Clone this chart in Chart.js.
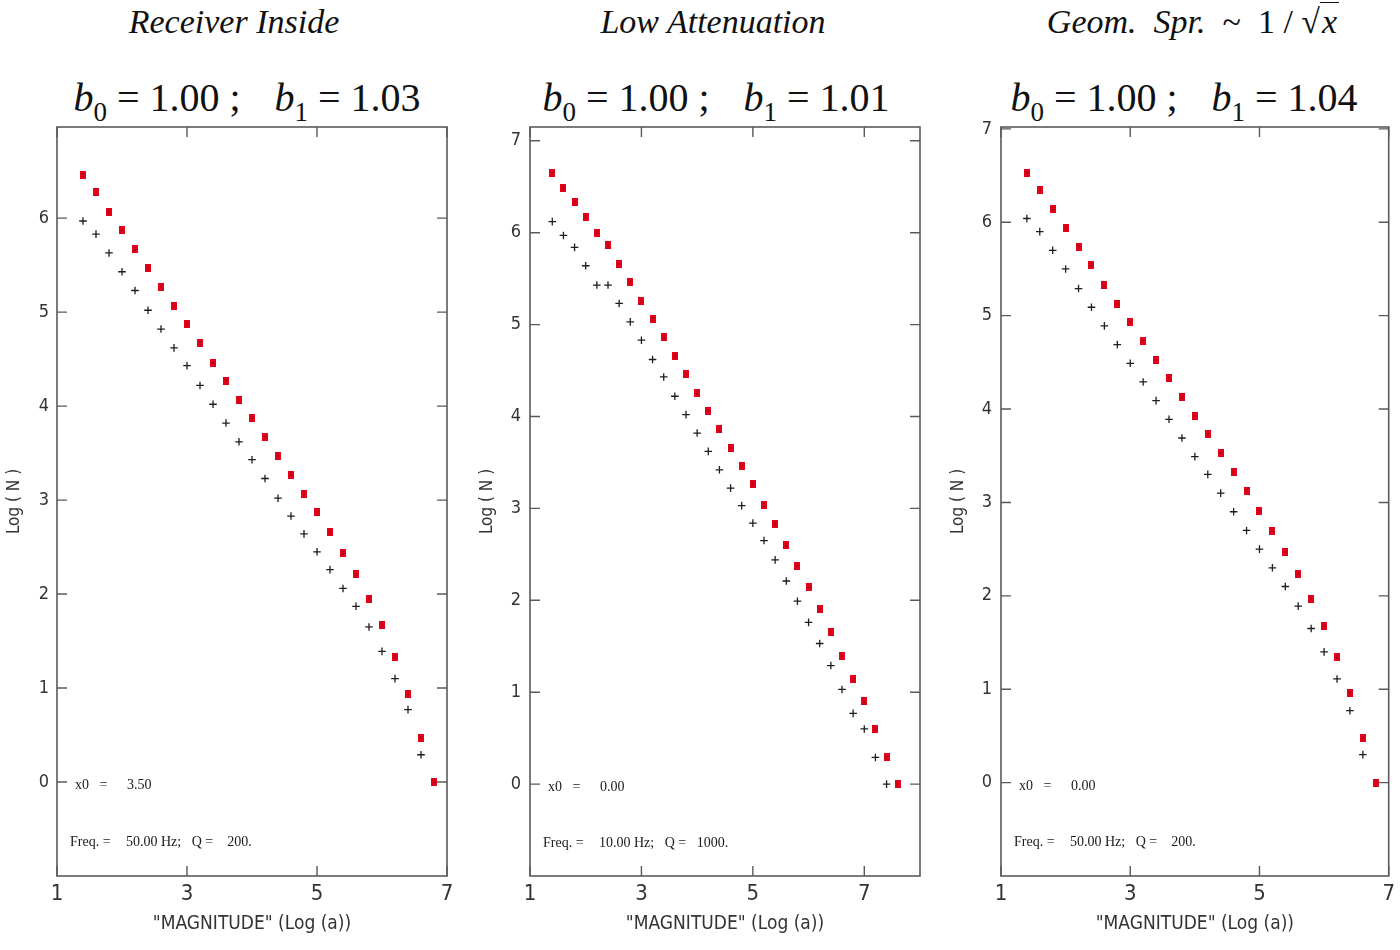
<!DOCTYPE html>
<html>
<head>
<meta charset="utf-8">
<script src="https://cdn.jsdelivr.net/npm/chart.js@4.4.1/dist/chart.umd.min.js"></script>
<style>
  body { margin:0; background:#fff; width:1400px; height:950px; overflow:hidden; position:relative; font-family:'Liberation Serif','DejaVu Serif',serif; color:#111; }
  canvas { position:absolute; top:0; }
  .t { position:absolute; width:500px; text-align:center; font-style:italic; font-size:34px; line-height:36px; white-space:nowrap; }
  .b { position:absolute; width:500px; text-align:center; font-size:40px; line-height:44px; white-space:nowrap; }
  .b i { font-style:italic; }
  .s { font-size:27px; position:relative; top:10px; font-style:normal; }
  .gap { display:inline-block; width:34px; }
  .rad { border-top:1.6px solid #111; font-style:italic; padding:0 2px; }
</style>
</head>
<body>
<div class="t" style="left:-16px;top:4px;">Receiver Inside</div>
<div class="t" style="left:463px;top:4px;">Low Attenuation</div>
<div class="t" style="left:943px;top:4px;"><i>Geom.&nbsp; Spr.</i>&nbsp; <span style="font-style:normal">~ &nbsp;1 / √</span><span class="rad">x</span></div>

<div class="b" style="left:-3px;top:76px;"><i>b</i><span class="s">0</span> = 1.00 ;<span class="gap"></span><i>b</i><span class="s">1</span> = 1.03</div>
<div class="b" style="left:466px;top:76px;"><i>b</i><span class="s">0</span> = 1.00 ;<span class="gap"></span><i>b</i><span class="s">1</span> = 1.01</div>
<div class="b" style="left:934px;top:76px;"><i>b</i><span class="s">0</span> = 1.00 ;<span class="gap"></span><i>b</i><span class="s">1</span> = 1.04</div>

<canvas id="c1" width="460" height="950" style="left:0px;"></canvas>
<canvas id="c2" width="465" height="950" style="left:470px;"></canvas>
<canvas id="c3" width="460" height="950" style="left:940px;"></canvas>

<script>
// ---------- Data ----------
const xTicks = [1, 3, 5, 7];
const yTicks1 = [0, 1, 2, 3, 4, 5, 6];
const yTicks2 = [0, 1, 2, 3, 4, 5, 6, 7];
const yTicks3 = [0, 1, 2, 3, 4, 5, 6, 7];

// Panel 1: Receiver Inside
const red1X = [1.4,1.6,1.8,2.0,2.2,2.4,2.6,2.8,3.0,3.2,3.4,3.6,3.8,4.0,4.2,4.4,4.6,4.8,5.0,5.2,5.4,5.6,5.8,6.0,6.2,6.4,6.6,6.8];
const red1Y = [6.46,6.28,6.07,5.87,5.67,5.47,5.27,5.07,4.87,4.67,4.46,4.27,4.06,3.87,3.67,3.47,3.27,3.06,2.87,2.66,2.44,2.21,1.95,1.67,1.33,0.94,0.47,0.00];
const blk1X = [1.4,1.6,1.8,2.0,2.2,2.4,2.6,2.8,3.0,3.2,3.4,3.6,3.8,4.0,4.2,4.4,4.6,4.8,5.0,5.2,5.4,5.6,5.8,6.0,6.2,6.4,6.6];
const blk1Y = [5.97,5.83,5.63,5.43,5.23,5.02,4.82,4.62,4.43,4.22,4.02,3.82,3.62,3.43,3.23,3.02,2.83,2.64,2.45,2.26,2.06,1.87,1.65,1.39,1.10,0.77,0.29];

// Panel 2: Low Attenuation
const red2X = [1.4,1.6,1.8,2.0,2.2,2.4,2.6,2.8,3.0,3.2,3.4,3.6,3.8,4.0,4.2,4.4,4.6,4.8,5.0,5.2,5.4,5.6,5.8,6.0,6.2,6.4,6.6,6.8,7.0,7.2,7.4,7.6];
const red2Y = [6.65,6.49,6.33,6.17,6.00,5.87,5.66,5.46,5.26,5.06,4.86,4.66,4.46,4.26,4.06,3.86,3.66,3.46,3.26,3.04,2.83,2.60,2.37,2.14,1.90,1.65,1.39,1.14,0.90,0.60,0.29,0.00];
const blk2X = [1.4,1.6,1.8,2.0,2.2,2.4,2.6,2.8,3.0,3.2,3.4,3.6,3.8,4.0,4.2,4.4,4.6,4.8,5.0,5.2,5.4,5.6,5.8,6.0,6.2,6.4,6.6,6.8,7.0,7.2,7.4];
const blk2Y = [6.12,5.97,5.84,5.64,5.43,5.43,5.23,5.03,4.83,4.62,4.43,4.22,4.02,3.82,3.62,3.42,3.22,3.03,2.84,2.65,2.44,2.21,1.99,1.76,1.53,1.29,1.03,0.77,0.60,0.29,0.00];

// Panel 3: Geom. Spr. ~ 1/sqrt(x)
const red3X = [1.4,1.6,1.8,2.0,2.2,2.4,2.6,2.8,3.0,3.2,3.4,3.6,3.8,4.0,4.2,4.4,4.6,4.8,5.0,5.2,5.4,5.6,5.8,6.0,6.2,6.4,6.6,6.8];
const red3Y = [6.53,6.35,6.14,5.94,5.74,5.54,5.33,5.13,4.93,4.73,4.53,4.33,4.13,3.93,3.73,3.53,3.33,3.12,2.91,2.69,2.47,2.23,1.97,1.68,1.35,0.96,0.48,0.00];
const blk3X = [1.4,1.6,1.8,2.0,2.2,2.4,2.6,2.8,3.0,3.2,3.4,3.6,3.8,4.0,4.2,4.4,4.6,4.8,5.0,5.2,5.4,5.6,5.8,6.0,6.2,6.4,6.6];
const blk3Y = [6.04,5.90,5.70,5.50,5.29,5.09,4.89,4.69,4.49,4.29,4.09,3.89,3.69,3.49,3.30,3.10,2.90,2.70,2.50,2.30,2.10,1.89,1.65,1.40,1.11,0.77,0.30];

const notes1 = { x0: '3.50', freq: '50.00 Hz;   Q =    200.' };
const notes2 = { x0: '0.00', freq: '10.00 Hz;   Q =   1000.' };
const notes3 = { x0: '0.00', freq: '50.00 Hz;   Q =    200.' };

// ---------- Drawing ----------
const redMark = document.createElement('canvas');
redMark.width = 6; redMark.height = 8;
(function(){ const c = redMark.getContext('2d'); c.fillStyle = '#e2001a'; c.fillRect(0,0,6,8); c.fillStyle = '#c40012'; c.fillRect(2,2,2,4); })();

const axisFont = "'Liberation Sans Narrow','DejaVu Sans Condensed','Liberation Sans',sans-serif";

const framePlugin = {
  id: 'frame',
  afterDraw(chart, args, opts) {
    const { ctx, chartArea: a, scales: { x, y } } = chart;
    ctx.save();
    ctx.strokeStyle = '#5a5a5a';
    ctx.lineWidth = 1.6;
    ctx.strokeRect(a.left, a.top, a.right - a.left, a.bottom - a.top);
    const L = 10;
    ctx.lineWidth = 1.4;
    ctx.beginPath();
    x.ticks.forEach(t => {
      const px = x.getPixelForValue(t.value);
      ctx.moveTo(px, a.bottom); ctx.lineTo(px, a.bottom - L);
      ctx.moveTo(px, a.top); ctx.lineTo(px, a.top + L);
    });
    y.ticks.forEach(t => {
      const py = y.getPixelForValue(t.value);
      ctx.moveTo(a.left, py); ctx.lineTo(a.left + L, py);
      ctx.moveTo(a.right, py); ctx.lineTo(a.right - L, py);
    });
    ctx.stroke();
    // notes
    ctx.fillStyle = '#1a1a1a';
    ctx.font = "14px 'Liberation Serif','DejaVu Serif',serif";
    ctx.textBaseline = 'middle';
    const y0 = y.getPixelForValue(-0.04);
    const yf = y.getPixelForValue(-0.64);
    ctx.fillText('x0   =', a.left + 18, y0);
    ctx.fillText(opts.x0, a.left + 70, y0);
    ctx.fillText('Freq. =', a.left + 13, yf);
    ctx.fillText(opts.freq, a.left + 69, yf);
    ctx.restore();
  }
};

function makeChart(id, cfg) {
  const pts = (xs, ys) => xs.map((v, i) => ({ x: v, y: ys[i] }));
  return new Chart(document.getElementById(id), {
    type: 'scatter',
    data: {
      datasets: [
        { data: pts(cfg.bx, cfg.by), pointStyle: 'cross', pointRadius: 3.8, borderColor: '#1e1e1e', backgroundColor: '#1e1e1e', pointBorderWidth: 1.3 },
        { data: pts(cfg.rx, cfg.ry), pointStyle: redMark, pointRadius: 4, borderColor: '#e2001a', backgroundColor: '#e2001a' }
      ]
    },
    options: {
      responsive: false,
      animation: false,
      events: [],
      layout: { padding: { top: 127, right: cfg.padRight, bottom: 0, left: 0 } },
      plugins: { legend: { display: false }, tooltip: { enabled: false }, frame: cfg.notes },
      scales: {
        x: {
          type: 'linear', min: 1, max: cfg.xmax,
          afterBuildTicks: s => { s.ticks = xTicks.map(v => ({ value: v })); },
          afterFit: s => { s.height = 74; },
          grid: { display: false, drawTicks: false },
          border: { display: false },
          ticks: { color: '#333', padding: 5, font: { family: axisFont, size: 22 } },
          title: { display: true, text: '"MAGNITUDE" (Log (a))', color: '#333', font: { family: axisFont, size: 19 }, padding: { top: 0, bottom: 15 } }
        },
        y: {
          type: 'linear', min: -1, max: cfg.ymax,
          afterBuildTicks: s => { s.ticks = cfg.yt.map(v => ({ value: v })); },
          afterFit: s => { s.width = cfg.yWidth; },
          grid: { display: false, drawTicks: false },
          border: { display: false },
          ticks: { color: '#333', padding: cfg.yPad, font: { family: axisFont, size: 18 } },
          title: { display: true, text: 'Log ( N )', color: '#333', font: { family: axisFont, size: 17 }, padding: { top: cfg.tPad, bottom: 0 } }
        }
      }
    },
    plugins: [framePlugin]
  });
}

makeChart('c1', { rx: red1X, ry: red1Y, bx: blk1X, by: blk1Y, xmax: 7, ymax: 6.97, yt: yTicks1, yWidth: 57, padRight: 13, yPad: 8, tPad: 4, notes: notes1 });
makeChart('c2', { rx: red2X, ry: red2Y, bx: blk2X, by: blk2Y, xmax: 8, ymax: 7.15, yt: yTicks2, yWidth: 60, padRight: 15, yPad: 9, tPad: 7, notes: notes2 });
makeChart('c3', { rx: red3X, ry: red3Y, bx: blk3X, by: blk3Y, xmax: 7, ymax: 7.02, yt: yTicks3, yWidth: 61, padRight: 10, yPad: 9, tPad: 8, notes: notes3 });
</script>
</body>
</html>
